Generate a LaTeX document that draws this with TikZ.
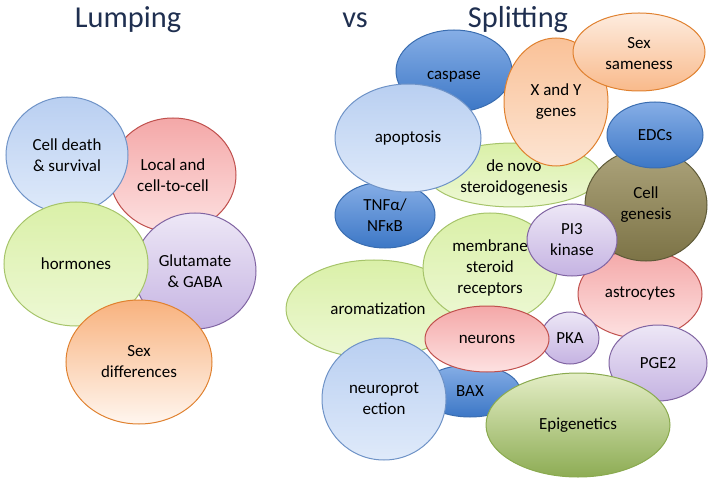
\documentclass[tikz,border=0pt]{standalone}
\usepackage{fontspec}
\setmainfont{Carlito}
\usetikzlibrary{shapes.geometric}

\definecolor{titlecol}{HTML}{1F2F50}
\definecolor{lbtop}{HTML}{B9CFF1}
\definecolor{lbbot}{HTML}{DFEAFA}
\definecolor{lbline}{HTML}{6F93C7}
\definecolor{dbtop}{HTML}{86AEE6}
\definecolor{dbbot}{HTML}{3C77C6}
\definecolor{dbline}{HTML}{3A6DB0}
\definecolor{ortop}{HTML}{F8B27E}
\definecolor{orbot}{HTML}{FFF6EF}
\definecolor{orline}{HTML}{E0812F}
\definecolor{pktop}{HTML}{F4A8A8}
\definecolor{pkbot}{HTML}{FDE1E1}
\definecolor{pkline}{HTML}{C0504D}
\definecolor{grtop}{HTML}{DAF0A8}
\definecolor{grbot}{HTML}{EDF8D4}
\definecolor{grline}{HTML}{A6C46A}
\definecolor{putop}{HTML}{EDE7F6}
\definecolor{pubot}{HTML}{C5B3E2}
\definecolor{puline}{HTML}{8064A2}
\definecolor{oltop}{HTML}{ADA47C}
\definecolor{olbot}{HTML}{7C7346}
\definecolor{olline}{HTML}{5E5A38}
\definecolor{eptop}{HTML}{E4EEC6}
\definecolor{epbot}{HTML}{8DAC54}
\definecolor{epline}{HTML}{8AAA4F}

\begin{document}
\begin{tikzpicture}[x=1bp,y=-1bp,
    bubble/.style={ellipse,draw,line width=1bp,inner sep=0pt,align=center,
      text=black,font=\fontsize{17}{21}\selectfont},
    dims/.style 2 args={minimum width=#1bp,minimum height=#2bp},
    lblue/.style={top color=lbtop,bottom color=lbbot,draw=lbline},
    dblue/.style={top color=dbtop,bottom color=dbbot,draw=dbline},
    orange/.style={top color=ortop,bottom color=orbot,draw=orline},
    pink/.style={top color=pktop,bottom color=pkbot,draw=pkline},
    lgreen/.style={top color=grtop,bottom color=grbot,draw=grline},
    purple/.style={top color=putop,bottom color=pubot,draw=puline},
    olive/.style={top color=oltop,bottom color=olbot,draw=olline},
    epi/.style={top color=eptop,bottom color=epbot,draw=epline},
    heading/.style={anchor=base,text=titlecol,font=\fontsize{30.5}{36}\selectfont}]
\useasboundingbox (0,0) rectangle (712,486);

% headings
\node[heading] (lump) at (128,28) {Lumping};
\node[heading] (vs) at (355,28) {vs};
\node[heading] (split) at (518,28) {Splitting};

% lumping
\node[bubble,pink,dims={126}{114}] (local) at (173,175) {Local and\\cell-to-cell};
\node[bubble,lblue,dims={122}{116}] (death) at (67,155) {Cell death\\\& survival};
\node[bubble,purple,dims={122}{116}] (glut) at (195,271) {Glutamate\\\& GABA};
\node[bubble,lgreen,dims={144}{124}] (horm) at (76,264) {hormones};
\node[bubble,orange,dims={146}{124}] (sexdiff) at (139,362) {Sex\\differences};

% splitting
\node[bubble,lgreen,dims={172}{64}] (denovo) at (514,175) {\\[-4pt]de novo\\steroidogenesis};
\node[bubble,dblue,dims={116}{82}] (casp) at (454,71) {\\[-2pt]caspase};
\node[bubble,dblue,dims={100}{66}] (tnf) at (385,215) {TNFα/\\NFκB};
\node[bubble,lblue,dims={146}{108}] (apop) at (408,138) {apoptosis};
\node[bubble,orange,top color=ortop!80,bottom color=ortop!35,dims={104}{128}] (xy) at (556,102) {X and Y\\genes};
\node[bubble,orange,top color=ortop!25,bottom color=ortop!90,dims={132}{78}] (same) at (639,52) {\\[-6pt]Sex\\sameness};
\node[bubble,pink,dims={124}{88}] (astro) at (640,294) {astrocytes};
\node[bubble,olive,dims={122}{112}] (cellgen) at (646,205) {Cell\\genesis};
\node[bubble,dblue,dims={96}{66}] (edc) at (655,135) {EDCs};
\node[bubble,lgreen,dims={176}{98}] (arom) at (374,309) {\hspace*{8bp}aromatization};
\node[bubble,lgreen,dims={134}{110}] (memb) at (490,268) {membrane\\steroid\\receptors};
\node[bubble,purple,dims={90}{72}] (pi3) at (572,240) {PI3\\kinase};
\node[bubble,purple,dims={58}{52}] (pka) at (570,338) {PKA};
\node[bubble,dblue,dims={100}{52}] (bax) at (470,391) {BAX};
\node[bubble,lblue,dims={124}{122}] (neuro) at (384,399) {neuroprot\\ection};
\node[bubble,pink,dims={124}{66}] (neur) at (487,339) {neurons};
\node[bubble,purple,dims={98}{76}] (pge) at (658,363) {PGE2};
\node[bubble,epi,dims={184}{104}] (epig) at (578,425) {Epigenetics};
\end{tikzpicture}
\end{document}
